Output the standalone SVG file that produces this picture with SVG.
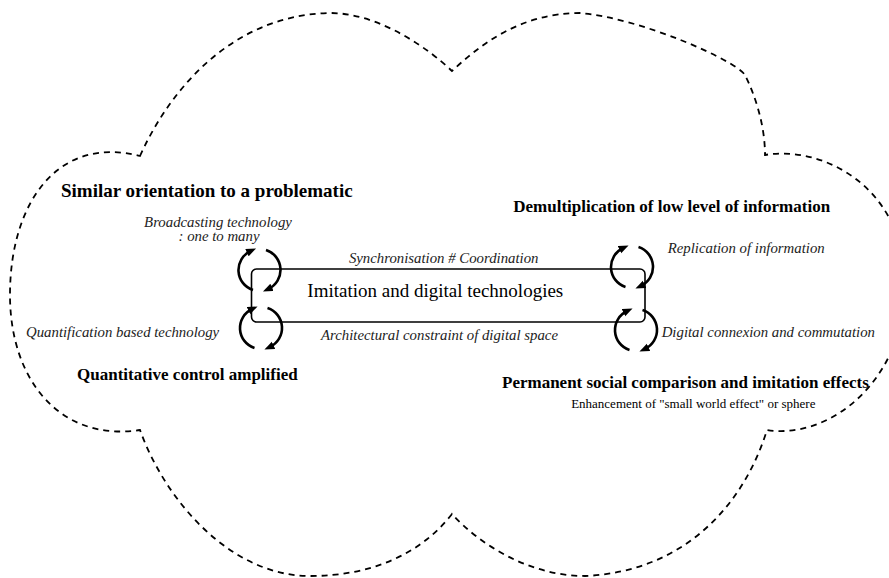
<svg xmlns="http://www.w3.org/2000/svg" width="889" height="578" viewBox="0 0 889 578">
  <defs>
    <style>
      .cloud { fill: none; stroke: #000; stroke-width: 1.8; stroke-dasharray: 6 5; }
      .box { fill: none; stroke: #000; stroke-width: 1.6; }
      .cyc { fill: none; stroke: #000; stroke-width: 2.6; marker-end: url(#ah); }
      text { font-family: 'Liberation Serif', 'DejaVu Serif', serif; }
      .head { font-weight: bold; fill: #000; }
      .ital { font-style: italic; font-size: 14.8px; fill: #222; }
      .reg { fill: #000; }
    </style>
    <marker id="ah" markerUnits="userSpaceOnUse" markerWidth="11" markerHeight="9" refX="4" refY="4" orient="auto">
      <path d="M0,0 L10,4 L0,8 z" fill="#000"/>
    </marker>
  </defs>
  <rect width="889" height="578" fill="#fff"/>

  <g id="cloud">
    <path class="cloud" d="M140,156 C165,100 225,15 330,13 C380,13 430,50 452,71 C480,45 520,13 580,13 C640,18 735,60 745,75 C755,95 765,125 765,155 C820,145 905,185 905,285 C905,380 830,440 767,430 C742,510 680,572 585,576 C530,576 480,545 452,514 C420,555 370,576 310,576 C230,576 165,500 140,430 C60,442 10,380 10,295 C10,200 60,135 140,156 Z"/>
  </g>

  <g id="central-node">
    <rect class="box" x="251.5" y="269" width="393.5" height="53" rx="5"/>
    <text class="reg" x="435.3" y="297" font-size="19" text-anchor="middle" font-family="Liberation Serif, DejaVu Serif, serif">Imitation and digital technologies</text>
  </g>

  <g id="connectors">
    <g id="cycle-top-left">
      <path class="cyc" d="M266,250 A21 21 0 0 1 268.4,289"/>
      <path class="cyc" d="M253,290 A21 21 0 0 1 250.6,251"/>
    </g>
    <g id="cycle-bottom-left">
      <path class="cyc" d="M267.5,308 A21 21 0 0 1 269.9,347"/>
      <path class="cyc" d="M254.5,348 A21 21 0 0 1 252.1,309"/>
    </g>
    <g id="cycle-top-right">
      <path class="cyc" d="M638.5,247 A21 21 0 0 1 640.9,286"/>
      <path class="cyc" d="M625.5,287 A21 21 0 0 1 623.1,248"/>
    </g>
    <g id="cycle-bottom-right">
      <path class="cyc" d="M642.5,310 A21 21 0 0 1 644.9,349"/>
      <path class="cyc" d="M629.5,350 A21 21 0 0 1 627.1,311"/>
    </g>
  </g>

  <g id="edge-labels">
    <text class="ital" x="443.7" y="263" text-anchor="middle">Synchronisation # Coordination</text>
    <text class="ital" x="439.5" y="340" text-anchor="middle">Architectural constraint of digital space</text>
  </g>

  <g id="top-left-group">
    <text class="head" x="61" y="197" font-size="19">Similar orientation to a problematic</text>
    <text class="ital" x="218" y="226.5" text-anchor="middle">Broadcasting technology</text>
    <text class="ital" x="219" y="241" text-anchor="middle">: one to many</text>
  </g>

  <g id="top-right-group">
    <text class="head" x="671.7" y="212" font-size="17" text-anchor="middle">Demultiplication of low level of information</text>
    <text class="ital" x="667.7" y="253.3">Replication of information</text>
  </g>

  <g id="bottom-left-group">
    <text class="ital" x="26" y="337">Quantification based technology</text>
    <text class="head" x="77" y="380" font-size="17">Quantitative control amplified</text>
  </g>

  <g id="bottom-right-group">
    <text class="ital" x="661.7" y="337">Digital connexion and commutation</text>
    <text class="head" x="502" y="388" font-size="17">Permanent social comparison and imitation effects</text>
    <text class="reg" x="693.3" y="407.7" font-size="13" text-anchor="middle" fill="#222">Enhancement of "small world effect" or sphere</text>
  </g>
</svg>
